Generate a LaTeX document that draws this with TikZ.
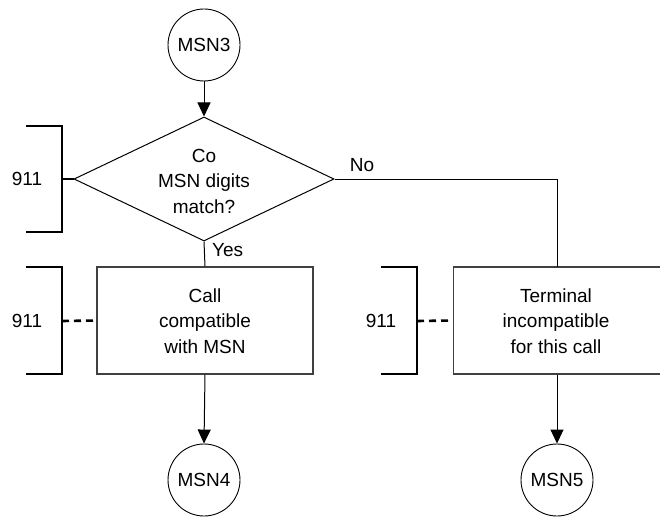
\documentclass[tikz,border=0pt]{standalone}
\usepackage{fontspec}
\setmainfont{Liberation Sans}
\usetikzlibrary{shapes.geometric,arrows.meta}
\begin{document}
\begin{tikzpicture}[x=1pt,y=-1pt,
  font=\fontsize{19}{25.5}\selectfont,
  conn/.style={line width=1pt,black},
  arr/.style={conn,-{Triangle[length=14pt,width=13pt]}},
  term/.style={circle,draw,line width=0.9pt,minimum size=72pt,inner sep=0pt},
  procbox/.style={rectangle,draw=black!75,line width=1.2pt,minimum width=216pt,minimum height=107pt,inner sep=0pt},
  txt/.style={align=center,inner sep=0pt},
  brk/.style={line width=2.6pt,line cap=butt},
  stub/.style={line width=2.6pt},
  dstub/.style={line width=2.6pt,dash pattern=on 7pt off 5pt}]
\useasboundingbox (0,0) rectangle (660,516);

% terminals
\node[term] (m3) at (204,45) {MSN3};
\node[term] (m4) at (204,480) {MSN4};
\node[term] (m5) at (557,480) {MSN5};

% decision
\node[diamond,draw,line width=1pt,minimum width=260pt,minimum height=124pt,inner sep=0pt] (dec) at (204,179) {};
\node[txt] (dect) at (204,181) {Co\\MSN digits\\match?};

% process boxes
\node[procbox] (lbox) at (205,320.5) {};
\node[txt] (lt) at (205,321) {Call\\compatible\\with MSN};
\node[procbox] (rbox) at (561.5,320.5) {};
\node[txt] (rt) at (556,321) {Terminal\\incompatible\\for this call};

% connectors
\draw[arr] (m3) -- (dec.north);
\draw[conn] (dec.south) -- (lbox.north);
\coordinate (rtop) at (557,267);
\draw[conn] (dec.east) -| (rtop);
\draw[arr] (lbox.south) -- (m4.north);
\draw[arr] (m5.north |- rbox.south) -- (m5.north);

% labels
\node[txt,anchor=west] (yes) at (212,250) {Yes};
\node[txt] (no) at (362,165) {No};

% brackets
\draw[brk] (26,126) -- (62,126) -- (62,232) -- (26,232);
\coordinate (b1) at (62,179);
\draw[stub] (b1) -- (dec.west);
\node[txt] (n1) at (27,179) {911};

\draw[brk] (26,267) -- (62,267) -- (62,374) -- (26,374);
\coordinate (b2) at (62,321);
\draw[dstub] (b2) -- (lbox.west);
\node[txt] (n2) at (27,321) {911};

\draw[brk] (381,267) -- (417,267) -- (417,374) -- (381,374);
\coordinate (b3) at (417,321);
\draw[dstub] (b3) -- (rbox.west);
\node[txt] (n3) at (381,321) {911};
\end{tikzpicture}
\end{document}
